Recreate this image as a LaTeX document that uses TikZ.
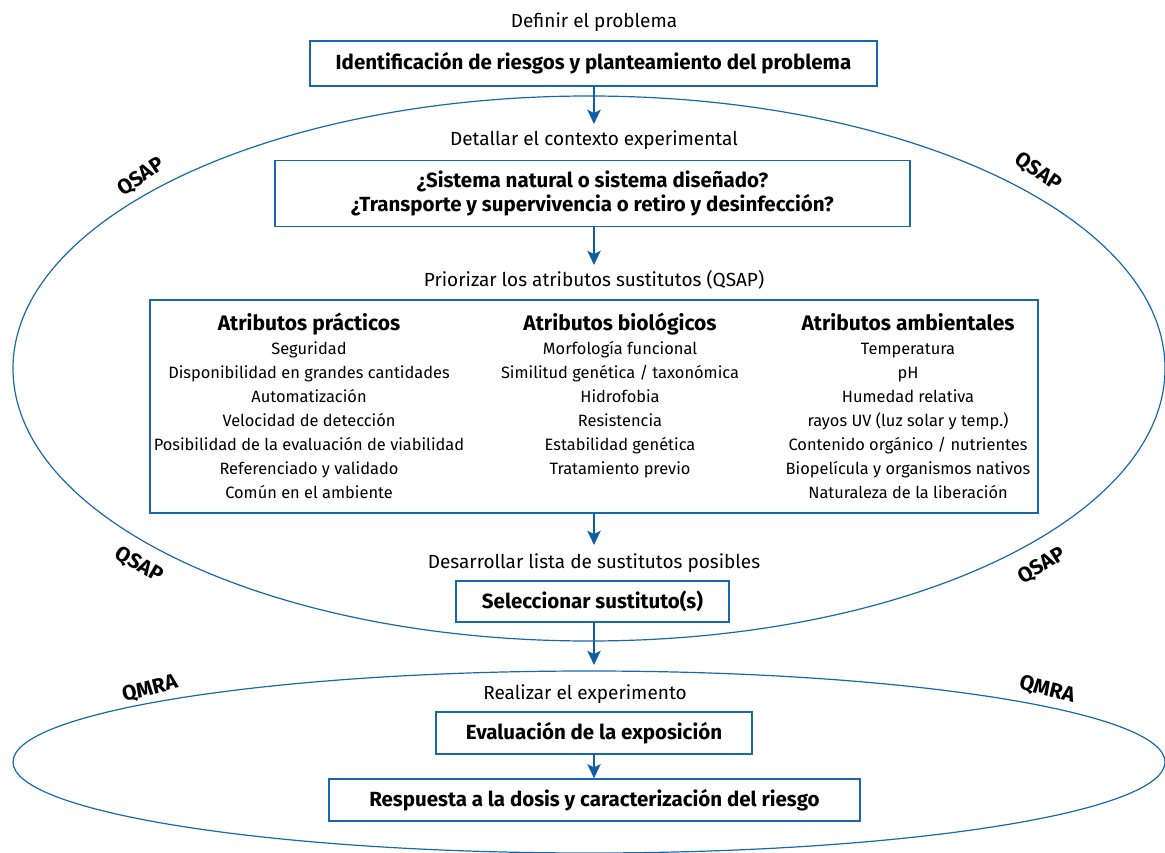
\documentclass[tikz,border=0pt]{standalone}
\usepackage{fontspec}
\setmainfont{Fira Sans}
\usetikzlibrary{arrows.meta}
\definecolor{lineblue}{RGB}{22,105,173}
\definecolor{arrowblue}{RGB}{12,95,165}
\tikzset{
  box/.style={draw=lineblue, line width=1.3pt, inner sep=0pt, font=\fontsize{20.5}{25}\selectfont\bfseries},
  lab/.style={font=\fontsize{19}{23}\selectfont, inner sep=0pt, anchor=base},
  loop/.style={draw=lineblue, line width=1.2pt},
  tag/.style={font=\fontsize{21}{24}\selectfont\bfseries, inner sep=0pt},
  arr/.style={draw=arrowblue, line width=2.8pt, -{Stealth[length=14pt,width=13pt,inset=3pt]}},
  colhead/.style={font=\fontsize{21}{25}\selectfont\bfseries, inner sep=0pt, anchor=base},
  colbody/.style={font=\fontsize{16.4}{20}\selectfont, inner sep=0pt, anchor=base}
}
\begin{document}
\begin{tikzpicture}[x=1pt,y=-1pt]
\useasboundingbox (0,0) rectangle (1165,853);
% loops
\draw[loop] (589,368.5) ellipse [x radius=576, y radius=272.5];
\draw[loop] (589,762) ellipse [x radius=576, y radius=91];
% loop tags
\node[tag, rotate=34] (q1) at (141,177) {QSAP};
\node[tag, rotate=-34] (q2) at (1038,172) {QSAP};
\node[tag, rotate=-30] (q3) at (139,565) {QSAP};
\node[tag, rotate=32] (q4) at (1042,566) {QSAP};
\node[tag, rotate=14] (m1) at (150,689) {QMRA};
\node[tag, rotate=-14] (m2) at (1047,690) {QMRA};
% labels
\node[lab] (l1) at (594,28) {Definir el problema};
\node[lab] (l2) at (594,146) {Detallar el contexto experimental};
\node[lab] (l3) at (594,287) {Priorizar los atributos sustitutos (QSAP)};
\node[lab] (l4) at (594,568) {Desarrollar lista de sustitutos posibles};
\node[lab] (l5) at (585,699) {Realizar el experimento};
% boxes
\node[box, minimum width=567pt, minimum height=45pt] (b1) at (593.5,63.5) {Identificación de riesgos y planteamiento del problema};
\node[box, minimum width=635pt, minimum height=66pt, align=center] (b2) at (592.5,193.5) {¿Sistema natural o sistema diseñado?\\[-1pt]¿Transporte y supervivencia o retiro y desinfección?};
\node[draw=lineblue, line width=1.3pt, minimum width=888pt, minimum height=213pt, inner sep=0pt] (b3) at (594,406.5) {};
\node[box, minimum width=273pt, minimum height=41pt] (b4) at (592.5,601.5) {Seleccionar sustituto(s)};
\node[box, minimum width=316pt, minimum height=42pt] (b5) at (594,733) {Evaluación de la exposición};
\node[box, minimum width=531pt, minimum height=42pt] (b6) at (594.5,800) {Respuesta a la dosis y caracterización del riesgo};
% columns
\node[colhead] (h1) at (309,330) {Atributos prácticos};
\node[colhead] (h2) at (620,330) {Atributos biológicos};
\node[colhead] (h3) at (908,330) {Atributos ambientales};
\foreach \t [count=\i] in {Seguridad,Disponibilidad en grandes cantidades,Automatización,Velocidad de detección,Posibilidad de la evaluación de viabilidad,Referenciado y validado,Común en el ambiente}
  \node[colbody] (p\i) at (309,{354+24*(\i-1)}) {\t};
\foreach \t [count=\i] in {Morfología funcional,Similitud genética / taxonómica,Hidrofobia,Resistencia,Estabilidad genética,Tratamiento previo}
  \node[colbody] (g\i) at (620,{354+24*(\i-1)}) {\t};
\foreach \t [count=\i] in {Temperatura,pH,Humedad relativa,rayos UV (luz solar y temp.),Contenido orgánico / nutrientes,Biopelícula y organismos nativos,Naturaleza de la liberación}
  \node[colbody] (e\i) at (908,{354+24*(\i-1)}) {\t};
% arrow ends
\coordinate (a1) at (594,124);
\coordinate (a2) at (594,265);
\coordinate (a3) at (594,545);
\coordinate (a4) at (594,665);
\coordinate (a5) at (594,779);
% arrows
\draw[arr] (b1.south -| a1) -- (a1);
\draw[arr] (b2.south -| a2) -- (a2);
\draw[arr] (b3.south -| a3) -- (a3);
\draw[arr] (b4.south -| a4) -- (a4);
\draw[arr] (b5.south -| a5) -- (b6.north -| a5);
\end{tikzpicture}
\end{document}
